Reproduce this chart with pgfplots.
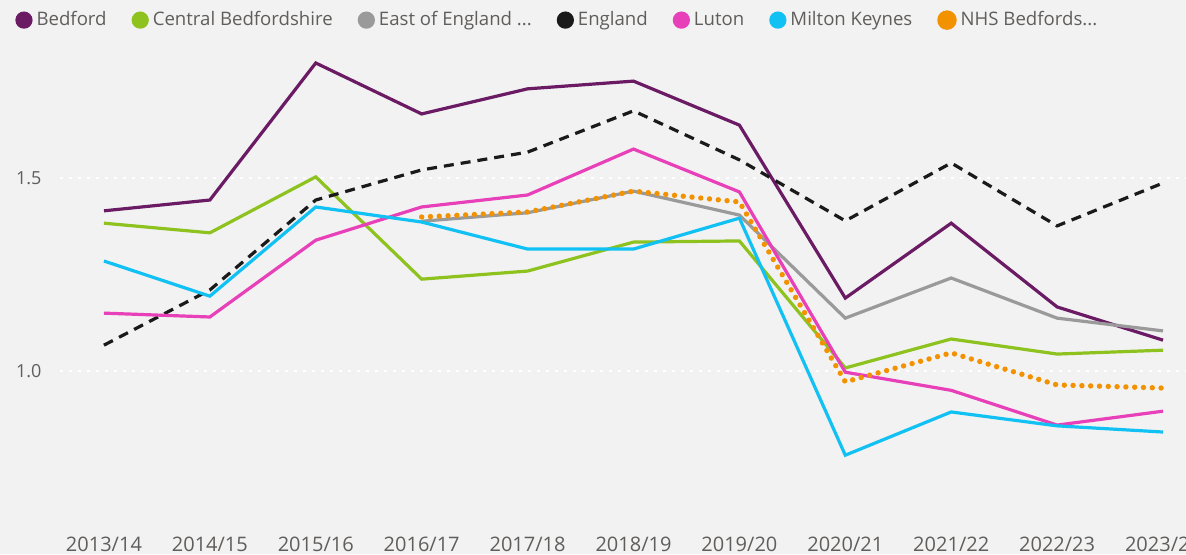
\documentclass[border=0pt]{standalone}
\usepackage{pgfplots}
\pgfplotsset{compat=1.18}
\usepackage{fontspec}
\setmainfont{Open Sans}
\definecolor{bgc}{HTML}{F2F2F2}
\definecolor{txt}{HTML}{605E5C}
\definecolor{cBed}{HTML}{6A1B64}
\definecolor{cCen}{HTML}{8DC21F}
\definecolor{cEoE}{HTML}{9A9A9A}
\definecolor{cEng}{HTML}{1A1A1A}
\definecolor{cLut}{HTML}{E840B8}
\definecolor{cMK}{HTML}{12C1F3}
\definecolor{cNHS}{HTML}{F39200}
\begin{document}
\begin{tikzpicture}
\fill[bgc] (-30pt,-22pt) rectangle (563pt,255pt);
\begin{axis}[
  at={(0,0)}, anchor=south west,
  scale only axis, width=563pt, height=230pt,
  xmin=-0.415, xmax=10.217, ymin=0.64, ymax=1.8316,
  axis line style={draw=none},
  tick style={draw=none},
  clip=false,
  xtick={0,...,10},
  xticklabels={2013/14,2014/15,2015/16,2016/17,2017/18,2018/19,2019/20,2020/21,2021/22,2022/23,2023/24},
  ytick={1.0,1.5}, yticklabels={1.0,1.5},
  major tick length=0pt,
  ymajorgrids, grid style={white, line width=1pt, dash pattern=on 1.5pt off 3pt},
  tick label style={color=txt, font=\fontsize{10}{12}\selectfont},
  xticklabel style={yshift=-10pt},
  yticklabel style={xshift=-5.7pt, font=\fontsize{9}{11}\selectfont},
  legend columns=-1,
  legend cell align=left,
  legend style={at={(-0.04,1.065)}, anchor=west, draw=none, fill=none, inner sep=0pt,
     font=\fontsize{9.3}{11}\selectfont, text=txt,
     /tikz/every even column/.append style={column sep=10.5pt}},
  legend image code/.code={\fill[#1,solid] (3.5pt,0pt) circle (3.5pt);},
]
\addplot[color=cBed, line width=1.6pt] coordinates {(0,1.415)(1,1.443)(2,1.798)(3,1.666)(4,1.731)(5,1.751)(6,1.637)(7,1.189)(8,1.383)(9,1.166)(10,1.080)};
\addlegendentry{Bedford}
\addplot[color=cCen, line width=1.6pt] coordinates {(0,1.383)(1,1.358)(2,1.503)(3,1.238)(4,1.259)(5,1.334)(6,1.337)(7,1.008)(8,1.083)(9,1.044)(10,1.054)};
\addlegendentry{Central Bedfordshire}
\addplot[color=cEoE, line width=1.6pt] coordinates {(3,1.388)(4,1.410)(5,1.466)(6,1.404)(7,1.137)(8,1.241)(9,1.137)(10,1.104)};
\addlegendentry{East of England ...}
\addplot[color=cEng, line width=1.6pt, dash pattern=on 5pt off 3.5pt] coordinates {(0,1.067)(1,1.210)(2,1.443)(3,1.521)(4,1.567)(5,1.674)(6,1.547)(7,1.389)(8,1.539)(9,1.376)(10,1.487)};
\addlegendentry{England}
\addplot[color=cLut, line width=1.6pt] coordinates {(0,1.150)(1,1.140)(2,1.339)(3,1.425)(4,1.456)(5,1.575)(6,1.464)(7,0.997)(8,0.950)(9,0.860)(10,0.896)};
\addlegendentry{Luton}
\addplot[color=cMK, line width=1.6pt] coordinates {(0,1.285)(1,1.194)(2,1.425)(3,1.386)(4,1.316)(5,1.316)(6,1.396)(7,0.782)(8,0.894)(9,0.858)(10,0.842)};
\addlegendentry{Milton Keynes}
\addplot[color=cNHS, line width=2.7pt, line cap=round, dash pattern=on 0pt off 4.4pt] coordinates {(3,1.399)(4,1.412)(5,1.466)(6,1.438)(7,0.972)(8,1.047)(9,0.964)(10,0.956)};
\addlegendentry{NHS Bedfords...}
\end{axis}
\pgfresetboundingbox
\path (-30pt,-22pt) rectangle (563pt,255pt);
\end{tikzpicture}
\end{document}
